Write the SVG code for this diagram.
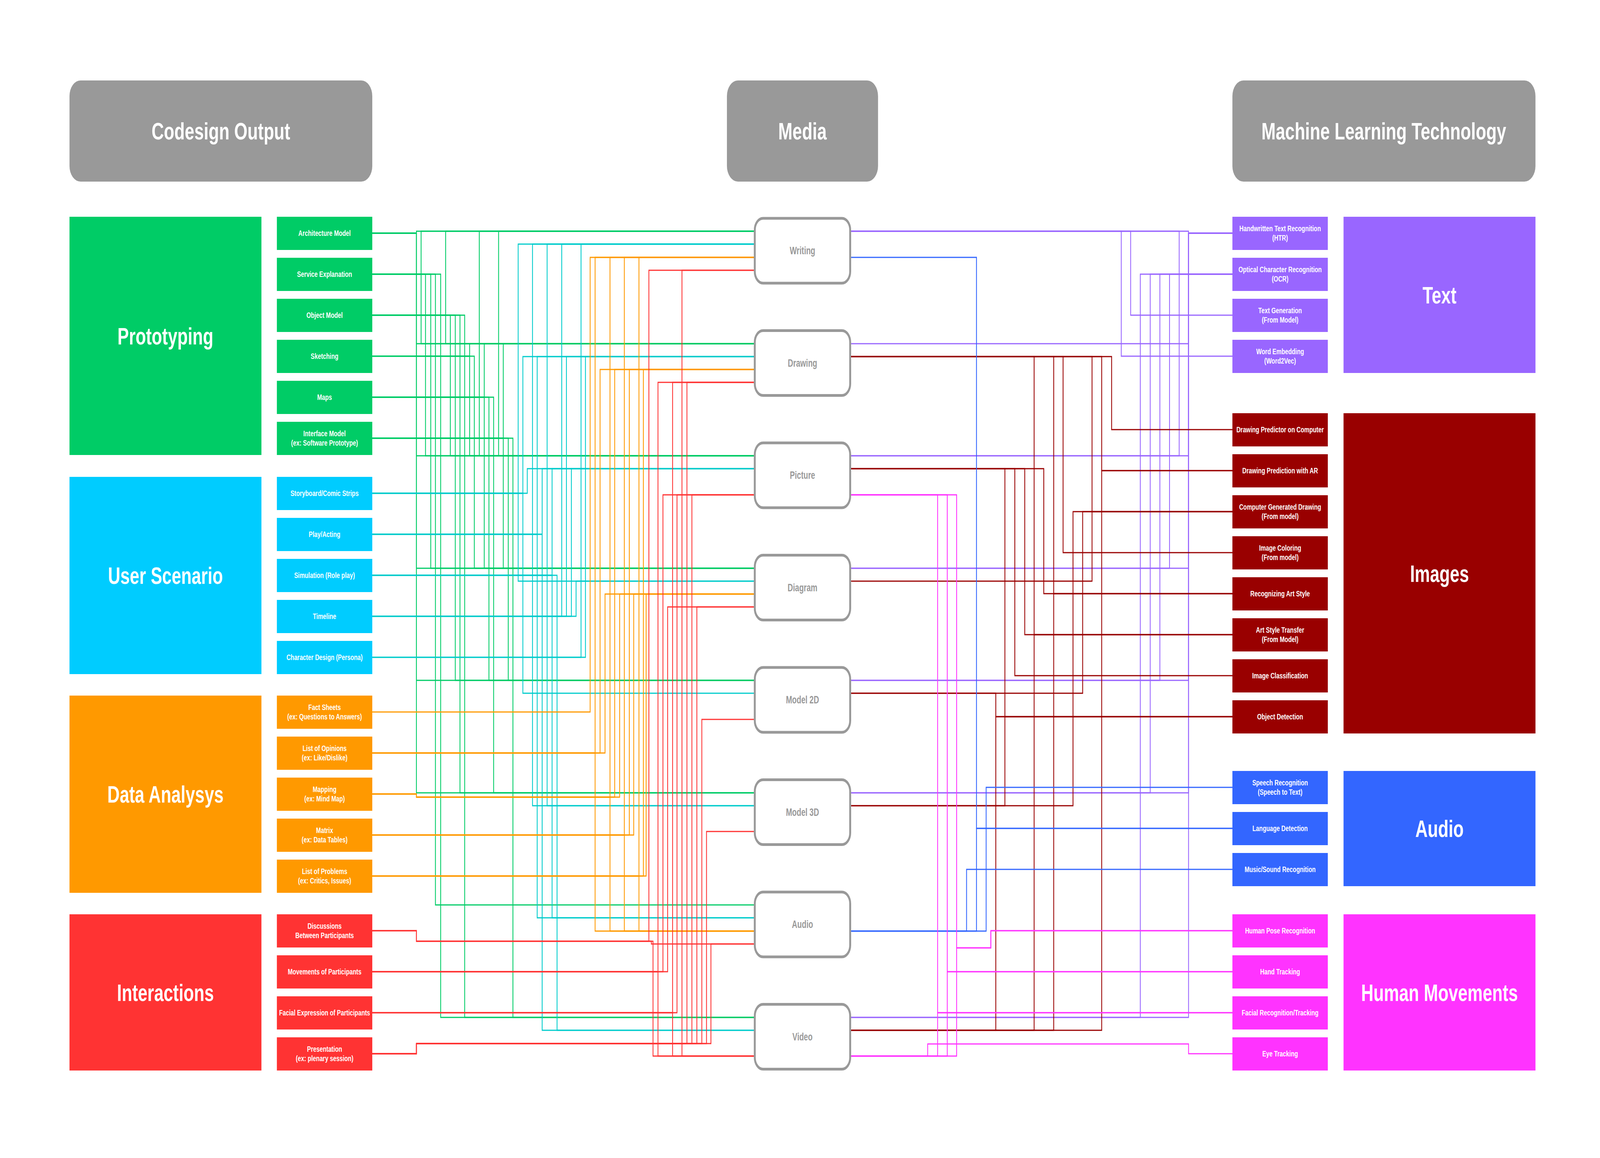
<svg xmlns="http://www.w3.org/2000/svg" width="5802" height="2965" viewBox="0 0 5802 2965" preserveAspectRatio="none" style="width:100vw;height:100vh;display:block">
<style>
.big{font-family:"Liberation Sans",Arial,sans-serif;font-weight:bold;font-size:62px;fill:#fff;text-anchor:middle;dominant-baseline:central}
.sm{font-family:"Liberation Sans",Arial,sans-serif;font-weight:bold;font-size:21px;fill:#fff;text-anchor:middle;dominant-baseline:central}
.med{font-family:"Liberation Sans",Arial,sans-serif;font-weight:bold;font-size:27px;fill:#999;text-anchor:middle;dominant-baseline:central}
.hdr{fill:#999}
.mnode{fill:#fff;stroke:#999;stroke-width:7}
#connectors path{fill:none;stroke-width:3}
.g{stroke:#00CC66}.t{stroke:#00CCCC}.o{stroke:#FF9900}.r{stroke:#FF3333}
.p{stroke:#9966FF}.d{stroke:#990000}.b{stroke:#3366FF}.m{stroke:#FF33FF}
.fg{fill:#00CC66}.ft{fill:#00CCFF}.fo{fill:#FF9900}.fr{fill:#FF3333}
.fp{fill:#9966FF}.fd{fill:#990000}.fb{fill:#3366FF}.fm{fill:#FF33FF}
</style>
<rect width="5802" height="2965" fill="#fff"/>
<g id="connectors">
<g class="g">
<path d="M1350 597H1510V592H2737"/><path d="M1350 597H1510V880H2737"/><path d="M1350 597H1510V1167H2737"/><path d="M1350 597H1510V1455H2737"/><path d="M1350 597H1510V1742H2737"/><path d="M1350 597H1510V2030H2737"/>
<path d="M1350 702H1527V592H2737"/><path d="M1350 702H1527V880H2737"/><path d="M1350 702H1543V1167H2737"/><path d="M1350 702H1562V1455H2737"/><path d="M1350 702H1579V2317H2737"/><path d="M1350 702H1598V2605H2737"/>
<path d="M1350 807H1616V592H2737"/><path d="M1350 807H1616V880H2737"/><path d="M1350 807H1633V1167H2737"/><path d="M1350 807H1651V1742H2737"/><path d="M1350 807H1668V2030H2737"/><path d="M1350 807H1685V2605H2737"/>
<path d="M1350 912H1703V880H2737"/><path d="M1350 912H1703V1167H2737"/><path d="M1350 912H1720V1455H2737"/>
<path d="M1350 1017H1738V592H2737"/><path d="M1350 1017H1738V1167H2737"/><path d="M1350 1017H1756V880H2737"/><path d="M1350 1017H1756V1455H2737"/><path d="M1350 1017H1773V1742H2737"/><path d="M1350 1017H1790V2030H2737"/>
<path d="M1350 1122H1808V592H2737"/><path d="M1350 1122H1808V1167H2737"/><path d="M1350 1122H1825V880H2737"/><path d="M1350 1122H1825V1455H2737"/><path d="M1350 1122H1843V1742H2737"/><path d="M1350 1122H1860V2605H2737"/>
</g>
<g class="t">
<path d="M1350 1263H1879V625H2737"/><path d="M1350 1263H1879V1488H2737"/><path d="M1350 1263H1896V913H2737"/><path d="M1350 1263H1896V1775H2737"/><path d="M1350 1263H1912V1200H2737"/>
<path d="M1350 1368H1931V625H2737"/><path d="M1350 1368H1931V2063H2737"/><path d="M1350 1368H1948V913H2737"/><path d="M1350 1368H1948V2350H2737"/><path d="M1350 1368H1966V1200H2737"/><path d="M1350 1368H1966V2638H2737"/>
<path d="M1350 1473H1984V625H2737"/><path d="M1350 1473H1984V2063H2737"/><path d="M1350 1473H2002V1200H2737"/><path d="M1350 1473H2002V2350H2737"/><path d="M1350 1473H2020V2638H2737"/>
<path d="M1350 1578H2037V625H2737"/><path d="M1350 1578H2054V913H2737"/><path d="M1350 1578H2072V1200H2737"/><path d="M1350 1578H2089V1488H2737"/>
<path d="M1350 1683H2107V625H2737"/><path d="M1350 1683H2123V913H2737"/>
</g>
<g class="o">
<path d="M1350 1823H2140V659H2737"/>
<path d="M1350 1928H2158V659H2737"/><path d="M1350 1928H2158V2384H2737"/><path d="M1350 1928H2176V946H2737"/><path d="M1350 1928H2194V1521H2737"/>
<path d="M1350 2033H1510V2041H2212V659H2737"/><path d="M1350 2033H1510V2041H2212V2384H2737"/><path d="M1350 2033H1510V2041H2229V946H2737"/><path d="M1350 2033H1510V2041H2247V1521H2737"/>
<path d="M1350 2138H2264V659H2737"/><path d="M1350 2138H2264V2384H2737"/><path d="M1350 2138H2282V946H2737"/><path d="M1350 2138H2298V1521H2737"/>
<path d="M1350 2243H2317V659H2737"/><path d="M1350 2243H2317V2384H2737"/><path d="M1350 2243H2333V946H2737"/><path d="M1350 2243H2343V1521H2737"/>
</g>
<g class="r">
<path d="M1350 2383H1510V2410H2353V692H2737"/><path d="M1350 2383H1510V2410H2362V2417H2737"/><path d="M1350 2383H1510V2410H2368V2704H2737"/>
<path d="M1350 2488H2386V979H2737"/><path d="M1350 2488H2386V2704H2737"/><path d="M1350 2488H2404V1267H2737"/><path d="M1350 2488H2421V1554H2737"/>
<path d="M1350 2593H2439V979H2737"/><path d="M1350 2593H2439V2704H2737"/><path d="M1350 2593H2455V1267H2737"/>
<path d="M1350 2698H1510V2672H2473V692H2737"/><path d="M1350 2698H1510V2672H2473V2704H2737"/><path d="M1350 2698H1510V2672H2491V979H2737"/><path d="M1350 2698H1510V2672H2509V1267H2737"/><path d="M1350 2698H1510V2672H2527V1554H2737"/><path d="M1350 2698H1510V2672H2545V1842H2737"/><path d="M1350 2698H1510V2672H2562V2129H2737"/><path d="M1350 2698H1510V2672H2578V2417H2737"/>
</g>
<g class="p">
<path d="M3083 592H4310V597H4469"/><path d="M3083 592H4276V702H4469"/><path d="M3083 592H4100V807H4469"/><path d="M3083 592H4066V912H4469"/>
<path d="M3083 880H4310V597H4469"/>
<path d="M3083 1167H4310V597H4469"/><path d="M3083 1167H4276V702H4469"/>
<path d="M3083 1455H4310V597H4469"/><path d="M3083 1455H4241V702H4469"/>
<path d="M3083 1742H4310V597H4469"/><path d="M3083 1742H4206V702H4469"/>
<path d="M3083 2030H4310V597H4469"/><path d="M3083 2030H4171V702H4469"/>
<path d="M3083 2605H4310V597H4469"/><path d="M3083 2605H4135V702H4469"/>
</g>
<g class="d">
<path d="M3083 913H4031V1100H4469"/><path d="M3083 913H3995V1205H4469"/><path d="M3083 913H3960V1310H4469"/><path d="M3083 913H3855V1415H4469"/><path d="M3083 913H3821V1520H4469"/><path d="M3083 913H3750V1625H4469"/>
<path d="M3083 1200H3644V1835H4469"/><path d="M3083 1200H3680V1730H4469"/><path d="M3083 1200H3716V1625H4469"/><path d="M3083 1200H3785V1520H4469"/>
<path d="M3083 1488H3960V1310H4469"/>
<path d="M3083 1775H3926V1310H4469"/><path d="M3083 1775H3611V1835H4469"/>
<path d="M3083 2063H3644V1835H4469"/><path d="M3083 2063H3891V1310H4469"/>
<path d="M3083 2638H3611V1835H4469"/><path d="M3083 2638H3750V1625H4469"/><path d="M3083 2638H3821V1520H4469"/><path d="M3083 2638H3995V1205H4469"/>
</g>
<g class="b">
<path d="M3083 659H3541V2121H4469"/>
<path d="M3083 2384H3576V2016H4469"/><path d="M3083 2384H3541V2121H4469"/><path d="M3083 2384H3505V2226H4469"/>
</g>
<g class="m">
<path d="M3083 1267H3469V2427H3593V2383H4469"/><path d="M3083 1267H3435V2488H4469"/><path d="M3083 1267H3400V2593H4469"/>
<path d="M3083 2704H3469V2427H3593V2383H4469"/><path d="M3083 2704H3435V2488H4469"/><path d="M3083 2704H3400V2593H4469"/>
<path d="M3083 2704H3364V2673H4310V2698H4469"/>
</g>
</g>
<g id="headers">
<g id="h-codesign"><rect class="hdr" x="252" y="206" width="1098" height="259" rx="40"/><text class="big" x="801" y="335">Codesign Output</text></g>
<g id="h-media"><rect class="hdr" x="2636" y="206" width="548" height="259" rx="40"/><text class="big" x="2910" y="335">Media</text></g>
<g id="h-ml"><rect class="hdr" x="4469" y="206" width="1099" height="259" rx="40"/><text class="big" x="5018" y="335">Machine Learning Technology</text></g>
</g>
<g id="groups">
<g id="grp-prototyping"><rect class="fg" x="252" y="555" width="696" height="610"/><text class="big" x="600" y="860">Prototyping</text></g>
<g id="grp-userscenario"><rect class="ft" x="252" y="1221" width="696" height="505"/><text class="big" x="600" y="1473">User Scenario</text></g>
<g id="grp-data"><rect class="fo" x="252" y="1781" width="696" height="505"/><text class="big" x="600" y="2033">Data Analysys</text></g>
<g id="grp-interactions"><rect class="fr" x="252" y="2341" width="696" height="400"/><text class="big" x="600" y="2541">Interactions</text></g>
<g id="grp-text"><rect class="fp" x="4872" y="555" width="696" height="400"/><text class="big" x="5220" y="755">Text</text></g>
<g id="grp-images"><rect class="fd" x="4872" y="1058" width="696" height="820"/><text class="big" x="5220" y="1468">Images</text></g>
<g id="grp-audio"><rect class="fb" x="4872" y="1974" width="696" height="295"/><text class="big" x="5220" y="2121">Audio</text></g>
<g id="grp-human"><rect class="fm" x="4872" y="2341" width="696" height="400"/><text class="big" x="5220" y="2541">Human Movements</text></g>
</g>
<g id="sources">
<g id="s-arch"><rect class="fg" x="1004" y="555" width="346" height="85"/><text class="sm" x="1177" y="597">Architecture Model</text></g>
<g id="s-service"><rect class="fg" x="1004" y="660" width="346" height="85"/><text class="sm" x="1177" y="702">Service Explanation</text></g>
<g id="s-object"><rect class="fg" x="1004" y="765" width="346" height="85"/><text class="sm" x="1177" y="807">Object Model</text></g>
<g id="s-sketching"><rect class="fg" x="1004" y="870" width="346" height="85"/><text class="sm" x="1177" y="912">Sketching</text></g>
<g id="s-maps"><rect class="fg" x="1004" y="975" width="346" height="85"/><text class="sm" x="1177" y="1017">Maps</text></g>
<g id="s-interface"><rect class="fg" x="1004" y="1080" width="346" height="85"/><text class="sm"><tspan x="1177" y="1110">Interface Model</tspan><tspan x="1177" y="1134">(ex: Software Prototype)</tspan></text></g>
<g id="s-storyboard"><rect class="ft" x="1004" y="1221" width="346" height="85"/><text class="sm" x="1177" y="1263">Storyboard/Comic Strips</text></g>
<g id="s-play"><rect class="ft" x="1004" y="1326" width="346" height="85"/><text class="sm" x="1177" y="1368">Play/Acting</text></g>
<g id="s-simulation"><rect class="ft" x="1004" y="1431" width="346" height="85"/><text class="sm" x="1177" y="1473">Simulation (Role play)</text></g>
<g id="s-timeline"><rect class="ft" x="1004" y="1536" width="346" height="85"/><text class="sm" x="1177" y="1578">Timeline</text></g>
<g id="s-character"><rect class="ft" x="1004" y="1641" width="346" height="85"/><text class="sm" x="1177" y="1683">Character Design (Persona)</text></g>
<g id="s-fact"><rect class="fo" x="1004" y="1781" width="346" height="85"/><text class="sm"><tspan x="1177" y="1811">Fact Sheets</tspan><tspan x="1177" y="1835">(ex: Questions to Answers)</tspan></text></g>
<g id="s-opinions"><rect class="fo" x="1004" y="1886" width="346" height="85"/><text class="sm"><tspan x="1177" y="1916">List of Opinions</tspan><tspan x="1177" y="1940">(ex: Like/Dislike)</tspan></text></g>
<g id="s-mapping"><rect class="fo" x="1004" y="1991" width="346" height="85"/><text class="sm"><tspan x="1177" y="2021">Mapping</tspan><tspan x="1177" y="2045">(ex: Mind Map)</tspan></text></g>
<g id="s-matrix"><rect class="fo" x="1004" y="2096" width="346" height="85"/><text class="sm"><tspan x="1177" y="2126">Matrix</tspan><tspan x="1177" y="2150">(ex: Data Tables)</tspan></text></g>
<g id="s-problems"><rect class="fo" x="1004" y="2201" width="346" height="85"/><text class="sm"><tspan x="1177" y="2231">List of Problems</tspan><tspan x="1177" y="2255">(ex: Critics, Issues)</tspan></text></g>
<g id="s-discussions"><rect class="fr" x="1004" y="2341" width="346" height="85"/><text class="sm"><tspan x="1177" y="2371">Discussions</tspan><tspan x="1177" y="2395">Between Participants</tspan></text></g>
<g id="s-movements"><rect class="fr" x="1004" y="2446" width="346" height="85"/><text class="sm" x="1177" y="2488">Movements of Participants</text></g>
<g id="s-facial"><rect class="fr" x="1004" y="2551" width="346" height="85"/><text class="sm" x="1177" y="2593">Facial Expression of Participants</text></g>
<g id="s-presentation"><rect class="fr" x="1004" y="2656" width="346" height="85"/><text class="sm"><tspan x="1177" y="2686">Presentation</tspan><tspan x="1177" y="2710">(ex: plenary session)</tspan></text></g>
</g>
<g id="media">
<g id="m-writing"><rect class="mnode" x="2737" y="559" width="346" height="166" rx="30"/><text class="med" x="2910" y="642">Writing</text></g>
<g id="m-drawing"><rect class="mnode" x="2737" y="846.5" width="346" height="166" rx="30"/><text class="med" x="2910" y="929.5">Drawing</text></g>
<g id="m-picture"><rect class="mnode" x="2737" y="1134" width="346" height="166" rx="30"/><text class="med" x="2910" y="1217">Picture</text></g>
<g id="m-diagram"><rect class="mnode" x="2737" y="1421.5" width="346" height="166" rx="30"/><text class="med" x="2910" y="1504.5">Diagram</text></g>
<g id="m-model2d"><rect class="mnode" x="2737" y="1709" width="346" height="166" rx="30"/><text class="med" x="2910" y="1792">Model 2D</text></g>
<g id="m-model3d"><rect class="mnode" x="2737" y="1996.5" width="346" height="166" rx="30"/><text class="med" x="2910" y="2079.5">Model 3D</text></g>
<g id="m-audio"><rect class="mnode" x="2737" y="2284" width="346" height="166" rx="30"/><text class="med" x="2910" y="2367">Audio</text></g>
<g id="m-video"><rect class="mnode" x="2737" y="2571.5" width="346" height="166" rx="30"/><text class="med" x="2910" y="2654.5">Video</text></g>
</g>
<g id="targets">
<g id="t-htr"><rect class="fp" x="4469" y="555" width="346" height="85"/><text class="sm"><tspan x="4642" y="585">Handwritten Text Recognition</tspan><tspan x="4642" y="609">(HTR)</tspan></text></g>
<g id="t-ocr"><rect class="fp" x="4469" y="660" width="346" height="85"/><text class="sm"><tspan x="4642" y="690">Optical Character Recognition</tspan><tspan x="4642" y="714">(OCR)</tspan></text></g>
<g id="t-textgen"><rect class="fp" x="4469" y="765" width="346" height="85"/><text class="sm"><tspan x="4642" y="795">Text Generation</tspan><tspan x="4642" y="819">(From Model)</tspan></text></g>
<g id="t-word"><rect class="fp" x="4469" y="870" width="346" height="85"/><text class="sm"><tspan x="4642" y="900">Word Embedding</tspan><tspan x="4642" y="924">(Word2Vec)</tspan></text></g>
<g id="t-dpc"><rect class="fd" x="4469" y="1058" width="346" height="85"/><text class="sm" x="4642" y="1100">Drawing Predictor on Computer</text></g>
<g id="t-dpar"><rect class="fd" x="4469" y="1163" width="346" height="85"/><text class="sm" x="4642" y="1205">Drawing Prediction with AR</text></g>
<g id="t-cgd"><rect class="fd" x="4469" y="1268" width="346" height="85"/><text class="sm"><tspan x="4642" y="1298">Computer Generated Drawing</tspan><tspan x="4642" y="1322">(From model)</tspan></text></g>
<g id="t-color"><rect class="fd" x="4469" y="1373" width="346" height="85"/><text class="sm"><tspan x="4642" y="1403">Image Coloring</tspan><tspan x="4642" y="1427">(From model)</tspan></text></g>
<g id="t-recart"><rect class="fd" x="4469" y="1478" width="346" height="85"/><text class="sm" x="4642" y="1520">Recognizing Art Style</text></g>
<g id="t-transfer"><rect class="fd" x="4469" y="1583" width="346" height="85"/><text class="sm"><tspan x="4642" y="1613">Art Style Transfer</tspan><tspan x="4642" y="1637">(From Model)</tspan></text></g>
<g id="t-classif"><rect class="fd" x="4469" y="1688" width="346" height="85"/><text class="sm" x="4642" y="1730">Image Classification</text></g>
<g id="t-objdet"><rect class="fd" x="4469" y="1793" width="346" height="85"/><text class="sm" x="4642" y="1835">Object Detection</text></g>
<g id="t-speech"><rect class="fb" x="4469" y="1974" width="346" height="85"/><text class="sm"><tspan x="4642" y="2004">Speech Recognition</tspan><tspan x="4642" y="2028">(Speech to Text)</tspan></text></g>
<g id="t-lang"><rect class="fb" x="4469" y="2079" width="346" height="85"/><text class="sm" x="4642" y="2121">Language Detection</text></g>
<g id="t-music"><rect class="fb" x="4469" y="2184" width="346" height="85"/><text class="sm" x="4642" y="2226">Music/Sound Recognition</text></g>
<g id="t-pose"><rect class="fm" x="4469" y="2341" width="346" height="85"/><text class="sm" x="4642" y="2383">Human Pose Recognition</text></g>
<g id="t-hand"><rect class="fm" x="4469" y="2446" width="346" height="85"/><text class="sm" x="4642" y="2488">Hand Tracking</text></g>
<g id="t-face"><rect class="fm" x="4469" y="2551" width="346" height="85"/><text class="sm" x="4642" y="2593">Facial Recognition/Tracking</text></g>
<g id="t-eye"><rect class="fm" x="4469" y="2656" width="346" height="85"/><text class="sm" x="4642" y="2698">Eye Tracking</text></g>
</g>
</svg>
